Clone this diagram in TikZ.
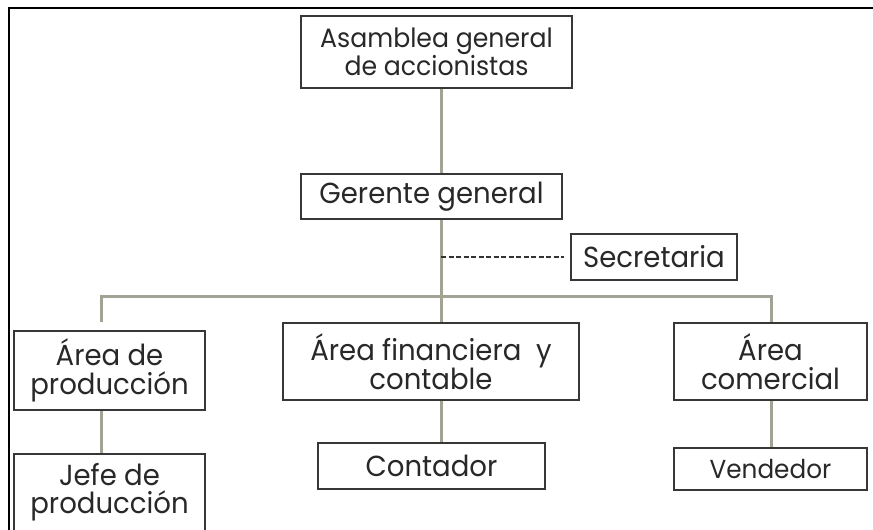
\documentclass[tikz,border=0pt]{standalone}
\usepackage{fontspec}
\setmainfont{Poppins}[FakeStretch=0.95]
\usepackage{tikz}
\definecolor{linkgray}{RGB}{162,163,148}
\definecolor{boxgray}{RGB}{55,55,55}
\definecolor{textgray}{RGB}{40,40,40}

\begin{document}
\begin{tikzpicture}[x=1pt,y=-1pt,
    box/.style={draw=boxgray, line width=1.6pt, fill=white, text=textgray,
      align=center, inner sep=0pt, font=\fontsize{29}{29}\selectfont},
    link/.style={draw=linkgray, line width=3pt},
    dashlink/.style={draw=black!80, line width=1.3pt, dash pattern=on 5pt off 2.5pt},
    frame/.style={draw=black, line width=2pt}]
      \useasboundingbox (0,0) rectangle (873,530);
      \clip (0,0) rectangle (873,530);
      \draw[frame] (873,8) -- (9,8) -- (9,531);
      \node[box, minimum width=271, minimum height=72, font=\fontsize{26.5}{28}\selectfont] (asamblea) at (436.5,52) {Asamblea general\\de accionistas};
      \node[box, minimum width=261, minimum height=45] (gerente) at (431.5,196.5) {Gerente general};
        \node[box, minimum width=166, minimum height=46] (secretaria) at (654,257) {Secretaria};
      \node[box, minimum width=191, minimum height=79] (prod) at (109.5,370.5) {Área de\\producción};
        \node[box, minimum width=191, minimum height=100, anchor=north,
          label={[anchor=north, align=center, text=textgray, yshift=-7pt,
            font=\fontsize{29}{28}\selectfont]north:Jefe de\\producción}] (jefe) at (109.5,453) {};
      \node[box, minimum width=296, minimum height=77] (fin) at (431,361.5) {Área financiera\ \ y\\contable};
        \node[box, minimum width=227, minimum height=46] (contador) at (431.5,466) {Contador};
      \node[box, minimum width=193, minimum height=77] (com) at (770.5,361.5) {Área\\comercial};
        \node[box, minimum width=193, minimum height=42, font=\fontsize{26}{28}\selectfont] (vendedor) at (770.5,469) {Vendedor};
      \coordinate (bar) at (441,296);
      \coordinate (barL) at (101,296);
      \coordinate (barR) at (771,296);
      \draw[link] (asamblea.south -| bar) -- (gerente.north -| bar);
      \draw[link] (gerente.south -| bar) -- (bar);
      \draw[dashlink, shorten >=6pt] (bar |- secretaria.west) -- (secretaria.west);
      \draw[link] ([yshift=8pt]prod.north -| barL) -- (barL) -- (barR) -- (barR |- com.north);
      \draw[link] (bar) -- (bar |- fin.north);
      \draw[link] (prod.south -| barL) -- (jefe.north -| barL);
      \draw[link] (fin.south -| bar) -- (contador.north -| bar);
      \draw[link] (com.south -| barR) -- (vendedor.north -| barR);
    \end{tikzpicture}
\end{document}
